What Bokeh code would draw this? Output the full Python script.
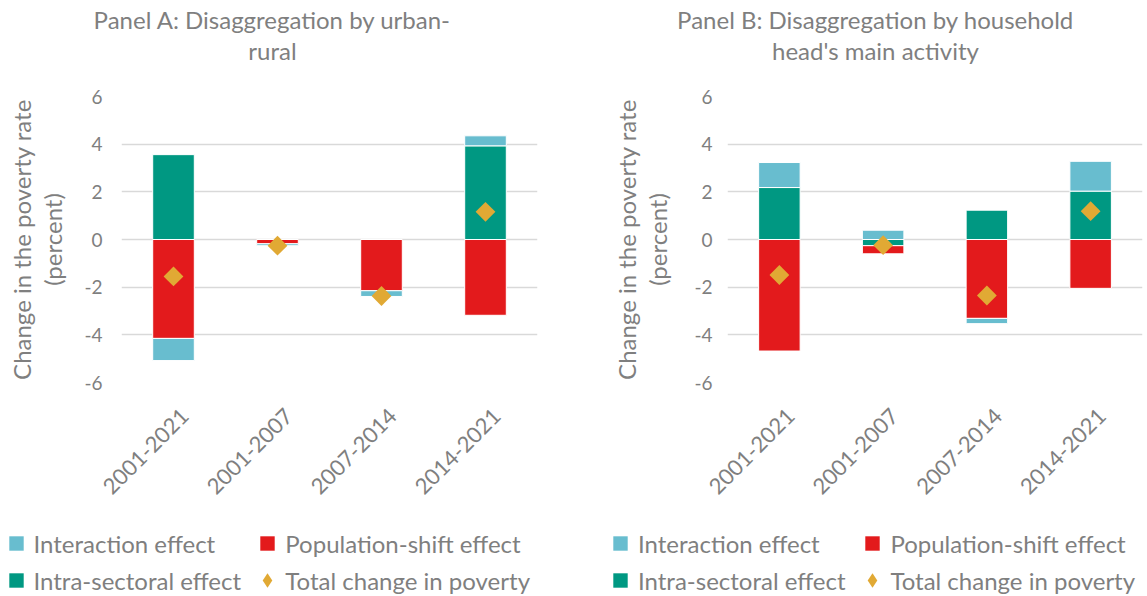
import math
from bokeh.plotting import figure
from bokeh.models import (ColumnDataSource, Range1d, FixedTicker, LinearAxis,
                          Legend, LegendItem, Label)
from bokeh.layouts import row, column
from bokeh.embed import file_html
from bokeh.resources import INLINE

# ---------------- data ----------------
categories = ["2001-2021", "2001-2007", "2007-2014", "2014-2021"]
y_ticks = [-6, -4, -2, 0, 2, 4, 6]
y_tick_labels = ["-6", "-4", "-2", "0", "2", "4", "6"]

title_a = "Panel A: Disaggregation by urban-\nrural"
intra_a = [3.56, 0.0, 0.0, 3.93]
pop_a = [-4.15, -0.18, -2.15, -3.18]
inter_a = [-0.93, -0.08, -0.24, 0.42]
total_a = [-1.55, -0.26, -2.37, 1.16]

title_b = "Panel B: Disaggregation by household\nhead's main activity"
intra_b = [2.18, -0.26, 1.23, 2.03]
pop_b = [-4.68, -0.34, -3.31, -2.05]
inter_b = [1.05, 0.39, -0.22, 1.25]
total_b = [-1.49, -0.24, -2.35, 1.19]

series_names = ["Intra-sectoral effect", "Population-shift effect", "Interaction effect"]
total_name = "Total change in poverty"
y_axis_title = "Change in the poverty rate\n(percent)"

# ---------------- style ----------------
FONT = "Lato"
GRAY = "#7F7F7F"
C_INTRA = "#009882"
C_POP = "#E31A1C"
C_INTER = "#68BDCF"
C_TOTAL = "#E1A934"
FILL = [C_INTRA, C_POP, C_INTER]

PAGE_H = 596
TITLE_H = 70          # title strip: 0..70
LEGEND_TOP = 520      # legend strip: 520..596
FRAME_TOP = 96
FRAME_BOTTOM = 382

cat_pos = [i + 0.5 for i in range(len(categories))]
NAN = float("nan")


def stack_sources(series):
    n = len(categories)
    pos = [0.0] * n
    neg = [0.0] * n
    out = []
    for vals in series:
        xs, bots, tops = [], [], []
        for j, v in enumerate(vals):
            if v == 0:
                continue
            if v > 0:
                b = pos[j]; t = b + v; pos[j] = t
            else:
                t = neg[j]; b = t + v; neg[j] = b
            xs.append(cat_pos[j]); bots.append(b); tops.append(t)
        out.append(ColumnDataSource(dict(x=xs, bottom=bots, top=tops)))
    return out


def strip(width, height):
    f = figure(width=width, height=height, x_range=Range1d(0, 1), y_range=Range1d(0, 1),
               output_backend="svg", toolbar_location=None, title=None,
               x_axis_location=None, y_axis_location=None, min_border=0,
               background_fill_color="white", border_fill_color="white")
    f.frame_align = False
    f.outline_line_color = None
    f.grid.visible = False
    return f


def make_panel(title, intra, pop, inter, total, fig_left, fig_right, frame_left,
               frame_right, title_cx, tick_standoff, label_standoff, legend_cols):
    width = fig_right - fig_left

    # ---- title strip ----
    ft = strip(width, TITLE_H)
    ft.add_layout(Label(x=title_cx - fig_left, y=TITLE_H - 4, x_units="screen",
                        y_units="screen", text=title, text_align="center",
                        text_baseline="top", text_font=FONT, text_font_size="24px",
                        text_color=GRAY, text_line_height=1.1))

    # ---- chart ----
    ch = LEGEND_TOP - TITLE_H
    p = figure(x_range=Range1d(0, len(categories)), y_range=Range1d(-6, 6),
               width=width, height=ch, output_backend="svg", toolbar_location=None,
               title=None, x_axis_location=None,
               min_border_left=frame_left - fig_left, min_border_right=fig_right - frame_right,
               min_border_top=FRAME_TOP - TITLE_H, min_border_bottom=LEGEND_TOP - FRAME_BOTTOM,
               background_fill_color="white", border_fill_color="white")
    p.frame_align = False
    p.outline_line_color = None
    p.xgrid.visible = False
    p.ygrid.grid_line_color = "#D9D9D9"
    p.ygrid.grid_line_width = 1.5
    p.ygrid.ticker = FixedTicker(ticks=y_ticks)

    ya = p.yaxis[0]
    ya.ticker = FixedTicker(ticks=y_ticks)
    ya.major_label_overrides = {t: s for t, s in zip(y_ticks, y_tick_labels)}
    ya.axis_line_color = None
    ya.major_tick_line_color = None
    ya.minor_tick_line_color = None
    ya.major_tick_in = 0
    ya.major_tick_out = 0
    ya.minor_tick_out = 0
    ya.major_label_standoff = tick_standoff
    ya.major_label_text_font = FONT
    ya.major_label_text_font_size = "19px"
    ya.major_label_text_color = GRAY
    ya.axis_label = y_axis_title
    ya.axis_label_text_font = FONT
    ya.axis_label_text_font_size = "24px"
    ya.axis_label_text_font_style = "normal"
    ya.axis_label_text_color = GRAY
    ya.axis_label_text_line_height = 1.1
    ya.axis_label_standoff = label_standoff

    cat_w = (frame_right - frame_left) / len(categories)
    shift = 11.5 / cat_w
    p.extra_x_ranges = {"lbl": Range1d(start=-shift, end=len(categories) - shift)}
    xa = LinearAxis(x_range_name="lbl", ticker=FixedTicker(ticks=cat_pos),
                    major_label_overrides={t: c for t, c in zip(cat_pos, categories)},
                    major_label_orientation=math.pi / 4, axis_line_color=None,
                    major_tick_line_color=None, minor_tick_line_color=None,
                    major_tick_in=0, major_tick_out=0, minor_tick_out=0,
                    major_label_standoff=30, major_label_text_font=FONT,
                    major_label_text_font_size="22px", major_label_text_color=GRAY)
    p.add_layout(xa, "below")

    sources = stack_sources([intra, pop, inter])
    for src, col in zip(sources, FILL):
        p.vbar(x="x", bottom="bottom", top="top", width=0.4, source=src,
               fill_color=col, line_color="white", line_width=1)

    tsrc = ColumnDataSource(dict(x=cat_pos, y=total))
    p.scatter(x="x", y="y", source=tsrc, marker="square", angle=math.pi / 4,
              size=14, fill_color=C_TOTAL, line_color=None)

    # ---- legend strip (swatch renderers hold no drawable point) ----
    lh = PAGE_H - LEGEND_TOP
    fl = strip(width, lh)
    swatch = {}
    for name, col in zip(series_names, FILL):
        swatch[name] = fl.scatter(x=[NAN], y=[NAN], marker="square", size=10,
                                  fill_color=col, line_color=None)
    swatch[total_name] = fl.scatter(x=[NAN], y=[NAN], marker="diamond",
                                    size=10, fill_color=C_TOTAL, line_color=None)
    common = dict(padding=0, margin=0, border_line_color=None, background_fill_alpha=0,
                  label_text_font=FONT, label_text_font_size="24px",
                  label_text_color=GRAY)
    entries = [
        (series_names[2], legend_cols[0], 543, 36, -9),
        (series_names[1], legend_cols[1], 543, 36, -9),
        (series_names[0], legend_cols[0], 580, 36, -9),
        (total_name, legend_cols[1], 580, 36, -9),
    ]
    for name, cx, cy, g, so in entries:
        lg = Legend(items=[LegendItem(label=name, renderers=[swatch[name]])],
                    glyph_width=g, glyph_height=g, label_standoff=so,
                    location=(cx - g / 2 - fig_left, PAGE_H - (cy + g / 2)), **common)
        fl.add_layout(lg)

    return column(ft, p, fl, spacing=0)


pa = make_panel(title_a, intra_a, pop_a, inter_a, total_a, fig_left=0, fig_right=588,
                frame_left=121, frame_right=537, title_cx=272,
                tick_standoff=19, label_standoff=14, legend_cols=(15.5, 267.3))
pb = make_panel(title_b, intra_b, pop_b, inter_b, total_b, fig_left=588, fig_right=1147,
                frame_left=727, frame_right=1142, title_cx=875,
                tick_standoff=15, label_standoff=19, legend_cols=(620, 872.4))

layout = row(pa, pb, spacing=0)
open("out.html", "w").write(file_html(layout, INLINE))
